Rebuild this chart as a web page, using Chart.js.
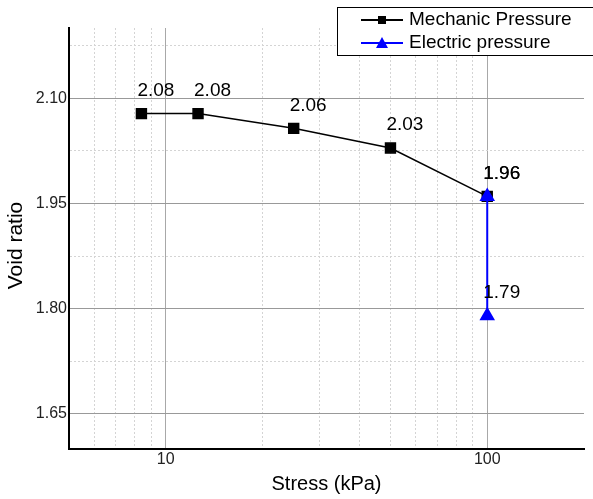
<!DOCTYPE html>
<html>
<head>
<meta charset="utf-8">
<script src="https://cdn.jsdelivr.net/npm/chart.js@4.4.0/dist/chart.umd.min.js"></script>
<style>
    body { margin: 0; background: #fff; }
</style>
</head>
<body>
<canvas id="myChart" width="593" height="499"></canvas>
<script>
// data
let mechStress = [8.4, 12.6, 25, 50, 100];
let mechVoid = [2.078, 2.078, 2.057, 2.029, 1.960];
let elecStress = [100, 100];
let elecVoid = [1.960, 1.790];

let seriesNames = ["Mechanic Pressure", "Electric pressure"];

// axis ticks / grid
let xGrid = [6, 7, 8, 9, 10, 20, 30, 40, 50, 60, 70, 80, 90, 100];
let xLabels = [10, 100];
let yGrid = [1.65, 1.725, 1.80, 1.875, 1.95, 2.025, 2.10, 2.175];
let yLabels = [1.65, 1.80, 1.95, 2.10];

const FONT = "Arial, 'Liberation Sans', sans-serif";

function toPoints(xs, ys) {
    let pts = [];
    for (let i = 0; i < xs.length; i++) {
        pts.push({x: xs[i], y: ys[i]});
    }
    return pts;
}

// value labels above each marker
const valueLabels = {
    id: 'valueLabels',
    afterDatasetsDraw(chart) {
        let ctx = chart.ctx;
        ctx.save();
        ctx.font = "19px " + FONT;
        ctx.fillStyle = "#000";
        ctx.textAlign = "left";
        ctx.textBaseline = "middle";
        chart.data.datasets.forEach((ds, i) => {
            chart.getDatasetMeta(i).data.forEach((pt, j) => {
                ctx.fillText(ds.data[j].y.toFixed(2), pt.x - 4, pt.y - 23);
            });
        });
        ctx.restore();
    }
};

// y title + boxed legend drawn by hand
const extras = {
    id: 'extras',
    afterDraw(chart) {
        let ctx = chart.ctx;
        ctx.save();
        ctx.font = "21px " + FONT;
        ctx.fillStyle = "#000";
        ctx.textAlign = "center";
        ctx.textBaseline = "middle";
        ctx.translate(16.5, 245.5);
        ctx.rotate(-Math.PI / 2);
        ctx.fillText("Void ratio", 0, 0);
        ctx.restore();

        ctx.save();
        ctx.fillStyle = "#fff";
        ctx.fillRect(337, 7, 260, 48);
        ctx.strokeStyle = "#000";
        ctx.lineWidth = 1;
        ctx.strokeRect(337.5, 7.5, 260, 48);
        ctx.font = "19px " + FONT;
        ctx.textAlign = "left";
        ctx.textBaseline = "middle";
        chart.data.datasets.forEach((ds, i) => {
            let y = i == 0 ? 20 : 43;
            ctx.strokeStyle = ds.borderColor;
            ctx.lineWidth = 2;
            ctx.beginPath();
            ctx.moveTo(361, y);
            ctx.lineTo(403, y);
            ctx.stroke();
            ctx.fillStyle = ds.pointBackgroundColor;
            ctx.beginPath();
            if (i == 0) {
                ctx.rect(378, y - 4, 8, 8);
            } else {
                ctx.moveTo(382, y - 6);
                ctx.lineTo(388, y + 5);
                ctx.lineTo(376, y + 5);
                ctx.closePath();
            }
            ctx.fill();
            ctx.fillStyle = "#000";
            ctx.fillText(seriesNames[i], 409, y);
        });
        ctx.restore();
    }
};

new Chart("myChart", {
    type: "line",
    data: {
        datasets: [{
            label: seriesNames[0],
            data: toPoints(mechStress, mechVoid),
            borderColor: "#000",
            backgroundColor: "#000",
            pointBackgroundColor: "#000",
            pointBorderColor: "#000",
            pointStyle: "rect",
            pointRadius: 7,
            borderWidth: 1.5,
            order: 2
        }, {
            label: seriesNames[1],
            data: toPoints(elecStress, elecVoid),
            borderColor: "#0000ff",
            backgroundColor: "#0000ff",
            pointBackgroundColor: "#0000ff",
            pointBorderColor: "#0000ff",
            pointStyle: "triangle",
            pointRadius: 7,
            borderWidth: 2,
            order: 1
        }]
    },
    options: {
        responsive: false,
        animation: false,
        devicePixelRatio: 1,
        layout: { padding: { top: 28, right: 7, left: 0, bottom: 0 } },
        plugins: {
            legend: { display: false },
            tooltip: { enabled: false }
        },
        scales: {
            x: {
                type: "logarithmic",
                min: 5,
                max: 200,
                afterFit: s => { s.height = 50; },
                afterBuildTicks: s => { s.ticks = xGrid.map(v => ({value: v})); },
                ticks: {
                    autoSkip: false,
                    maxRotation: 0,
                    padding: 1,
                    color: "#222",
                    font: { family: FONT, size: 16 },
                    callback: v => xLabels.includes(v) ? String(v) : ""
                },
                grid: {
                    drawTicks: false,
                    color: c => (c.tick && xLabels.includes(c.tick.value)) ? "#a8a8a8" : "#d4d4d4"
                },
                border: {
                    color: "#000",
                    width: 2,
                    dash: c => (c.tick && !xLabels.includes(c.tick.value)) ? [2, 2] : []
                },
                title: {
                    display: true,
                    text: "Stress (kPa)",
                    color: "#000",
                    font: { family: FONT, size: 20 },
                    padding: { top: 0, bottom: 3 }
                }
            },
            y: {
                min: 1.60,
                max: 2.20,
                afterFit: s => { s.width = 69; },
                afterBuildTicks: s => { s.ticks = yGrid.map(v => ({value: v})); },
                ticks: {
                    autoSkip: false,
                    padding: 2,
                    color: "#222",
                    font: { family: FONT, size: 16 },
                    callback: v => yLabels.includes(v) ? v.toFixed(2) : ""
                },
                grid: {
                    drawTicks: false,
                    color: c => (c.tick && yLabels.includes(c.tick.value)) ? "#999" : "#d4d4d4"
                },
                border: {
                    color: "#000",
                    width: 2,
                    dash: c => (c.tick && !yLabels.includes(c.tick.value)) ? [2, 2] : []
                }
            }
        }
    },
    plugins: [valueLabels, extras]
});
</script>
</body>
</html>
